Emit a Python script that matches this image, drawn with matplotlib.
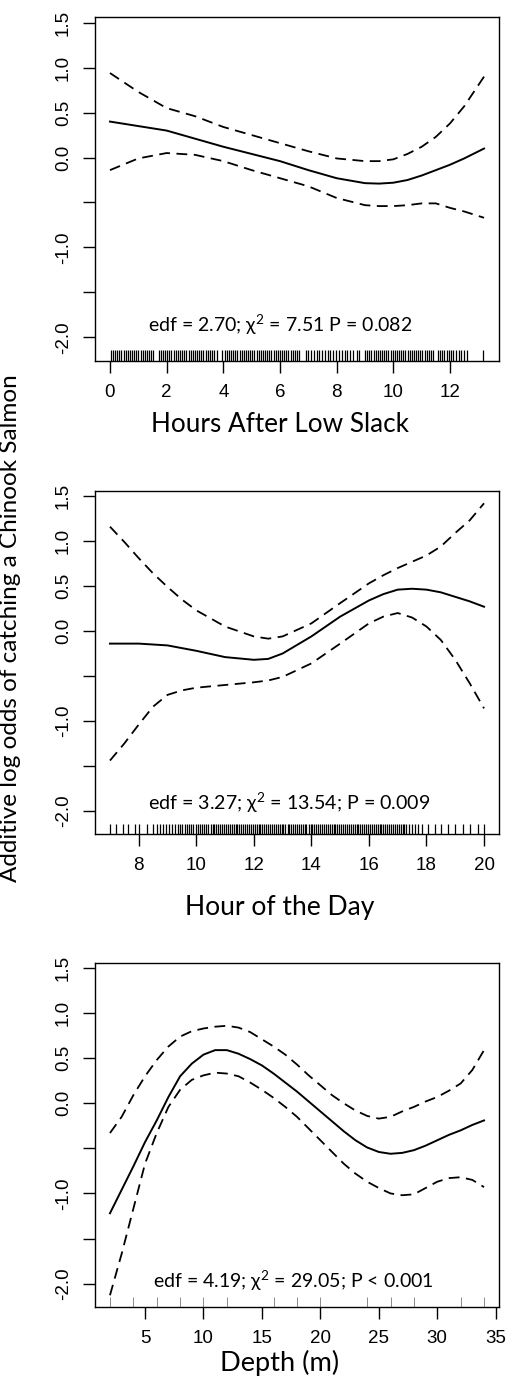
import matplotlib
matplotlib.use("Agg")
import matplotlib.pyplot as plt

plt.rcParams["mathtext.fontset"] = "custom"
plt.rcParams["mathtext.rm"] = "Lato"
plt.rcParams["mathtext.it"] = "Lato:italic"

# ---------------- data ----------------
# Panel 1: Hours After Low Slack
hals_x = [0, 1, 2, 3, 4, 5, 6, 7, 8, 9, 9.5, 10, 10.5, 11, 11.5, 12, 12.5, 13.2]
hals_fit = [0.40, 0.35, 0.30, 0.21, 0.12, 0.04, -0.04, -0.14, -0.23, -0.285, -0.29, -0.28, -0.25, -0.20, -0.14, -0.08, -0.01, 0.10]
hals_up = [0.94, 0.73, 0.55, 0.46, 0.34, 0.25, 0.16, 0.07, -0.01, -0.04, -0.04, -0.02, 0.04, 0.12, 0.23, 0.38, 0.57, 0.90]
hals_lo = [-0.14, -0.01, 0.05, 0.03, -0.04, -0.14, -0.23, -0.32, -0.45, -0.53, -0.54, -0.54, -0.53, -0.51, -0.51, -0.56, -0.60, -0.67]
hals_rug = [0.02, 0.1, 0.18, 0.25, 0.33, 0.4, 0.48, 0.55, 0.62, 0.7, 0.78, 0.85, 0.93, 1.0, 1.08, 1.15,
            1.23, 1.3, 1.38, 1.45, 1.52,
            1.72, 1.8, 1.87, 1.95, 2.02, 2.1, 2.17, 2.25, 2.33, 2.4, 2.48, 2.55, 2.62, 2.7, 2.78, 2.85,
            2.93, 3.0, 3.08, 3.15, 3.22, 3.3, 3.38, 3.45, 3.52, 3.6, 3.68, 3.78,
            3.97, 4.05, 4.12, 4.2, 4.28, 4.35, 4.42, 4.5, 4.58, 4.65, 4.72, 4.8, 4.88, 4.95, 5.02, 5.1,
            5.18, 5.25, 5.32, 5.4, 5.48, 5.55, 5.62, 5.7, 5.78, 5.85, 5.92, 6.0, 6.08, 6.15, 6.22, 6.3,
            6.38, 6.45, 6.52, 6.6, 6.68,
            6.92, 7.0, 7.1, 7.2, 7.3, 7.38, 7.48, 7.58, 7.68, 7.78, 7.88, 7.98, 8.08, 8.18, 8.28, 8.38,
            8.48, 8.58, 8.7, 8.8,
            9.0, 9.08, 9.15, 9.22, 9.3, 9.38, 9.45, 9.52, 9.6, 9.68, 9.75, 9.82, 9.9, 9.98, 10.05, 10.12,
            10.2, 10.28, 10.35, 10.42, 10.5, 10.58, 10.65, 10.72, 10.8, 10.88, 10.95, 11.02, 11.1, 11.18,
            11.25, 11.32, 11.4,
            11.58, 11.65, 11.72, 11.8, 11.88, 11.95, 12.02, 12.1, 12.2, 12.3, 12.4, 12.5, 12.6,
            13.17]

# Panel 2: Hour of the Day
hod_x = [7, 7.5, 8, 8.5, 9, 9.5, 10, 11, 12, 12.5, 13, 14, 15, 16, 16.5, 17, 17.5, 18, 18.5, 19, 19.5, 20]
hod_fit = [-0.14, -0.14, -0.14, -0.15, -0.16, -0.19, -0.22, -0.29, -0.32, -0.31, -0.25, -0.06, 0.16, 0.34, 0.41, 0.46, 0.47, 0.46, 0.43, 0.38, 0.33, 0.27]
hod_up = [1.16, 0.99, 0.81, 0.64, 0.49, 0.35, 0.23, 0.05, -0.06, -0.085, -0.06, 0.085, 0.31, 0.53, 0.62, 0.70, 0.77, 0.84, 0.94, 1.09, 1.23, 1.42]
hod_lo = [-1.44, -1.25, -1.04, -0.84, -0.71, -0.66, -0.63, -0.60, -0.57, -0.55, -0.51, -0.36, -0.14, 0.085, 0.16, 0.20, 0.15, 0.05, -0.10, -0.32, -0.58, -0.86]
hod_rug = [7.0, 7.22, 7.45, 7.62, 7.88, 8.0, 8.28, 8.5, 8.62, 8.75, 8.85, 8.95, 9.05, 9.15, 9.25, 9.35,
           9.45, 9.52, 9.6, 9.68, 9.75, 9.82, 9.9, 9.98, 10.05, 10.12, 10.2, 10.28, 10.35, 10.42, 10.5,
           10.57, 10.63, 10.7, 10.77, 10.83, 10.9, 10.97, 11.03, 11.1, 11.17, 11.23, 11.3, 11.37, 11.43,
           11.5, 11.57, 11.63, 11.7, 11.77, 11.83, 11.9, 11.97, 12.03, 12.1, 12.17, 12.23, 12.3, 12.37,
           12.43, 12.5, 12.57, 12.63, 12.7, 12.77, 12.83, 12.9, 12.97, 13.03, 13.1, 13.17, 13.23, 13.3,
           13.37, 13.43, 13.5, 13.57, 13.63, 13.7, 13.77, 13.83, 13.9, 13.97, 14.03, 14.1, 14.17, 14.23,
           14.3, 14.37, 14.43, 14.5, 14.57, 14.63, 14.7, 14.77, 14.83, 14.9, 14.97, 15.03, 15.1, 15.17,
           15.23, 15.3, 15.37, 15.43, 15.5, 15.57, 15.63, 15.7, 15.77, 15.83, 15.9, 15.97, 16.03, 16.1,
           16.17, 16.23, 16.3, 16.37, 16.43, 16.5, 16.57, 16.63, 16.7, 16.77, 16.83, 16.9, 16.97, 17.03,
           17.1, 17.17, 17.23, 17.3, 17.4, 17.5, 17.6, 17.72, 17.85,
           18.05, 18.3, 18.52, 18.75, 18.98, 19.27, 19.5, 19.78, 20.0]

# Panel 3: Depth (m)
dep_x = list(range(2, 35))
dep_fit = [-1.22, -0.96, -0.70, -0.43, -0.19, 0.07, 0.30, 0.44, 0.54, 0.59, 0.59, 0.55, 0.49, 0.42, 0.33, 0.23,
           0.13, 0.02, -0.09, -0.20, -0.31, -0.41, -0.49, -0.54, -0.56, -0.55, -0.52, -0.47, -0.41, -0.35,
           -0.30, -0.24, -0.19]
dep_up = [-0.33, -0.15, 0.09, 0.30, 0.48, 0.63, 0.74, 0.80, 0.83, 0.85, 0.86, 0.84, 0.79, 0.71, 0.63, 0.54,
          0.43, 0.31, 0.20, 0.09, 0.00, -0.08, -0.14, -0.17, -0.15, -0.09, -0.04, 0.02, 0.07, 0.14, 0.22,
          0.37, 0.59]
dep_lo = [-2.13, -1.67, -1.17, -0.67, -0.33, -0.04, 0.15, 0.26, 0.31, 0.34, 0.33, 0.30, 0.23, 0.15, 0.06, -0.04,
          -0.15, -0.28, -0.41, -0.54, -0.67, -0.78, -0.87, -0.94, -1.00, -1.02, -1.01, -0.94, -0.87, -0.83,
          -0.82, -0.85, -0.93]
dep_rug = [2, 4, 6, 8, 10, 12, 16, 18, 20, 24, 26, 28, 32, 34]

y_ticks = [-2.0, -1.5, -1.0, -0.5, 0.0, 0.5, 1.0, 1.5]
y_ticklabels = ["-2.0", "", "-1.0", "", "0.0", "0.5", "1.0", "1.5"]

x_ticks = [[0, 2, 4, 6, 8, 10, 12], [8, 10, 12, 14, 16, 18, 20], [5, 10, 15, 20, 25, 30, 35]]
x_titles = ["Hours After Low Slack", "Hour of the Day", "Depth (m)"]
annotations = ["edf = 2.70; \u03c7$^{2}$ = 7.51 P = 0.082",
               "edf = 3.27; \u03c7$^{2}$ = 13.54; P = 0.009",
               "edf = 4.19; \u03c7$^{2}$ = 29.05; P < 0.001"]
y_title = "Additive log odds of catching a Chinook Salmon"

# ---------------- layout ----------------
W, H = 508, 1390
fig = plt.figure(figsize=(W / 100, H / 100), dpi=100)
fig.patch.set_facecolor("white")

title_font = ["Lato", "Noto Sans", "DejaVu Sans"]
tick_font = ["Liberation Sans", "DejaVu Sans"]

boxes = [(17.3, 360.7), (490.7, 834.3), (962.7, 1307.0)]
xlims = [(-0.528, 13.728), (6.48, 20.52), (0.72, 35.28)]
ylim = (-2.26, 1.56)
title_base = [432, 915, 1371]
title_target_w = [258, 189, 119]
ann_left = [148.3, 148.3, 152.7]
ann_base = [332, 810, 1288]
ann_target_w = [264, 282, 281]

series = [(hals_x, hals_fit, hals_up, hals_lo, hals_rug),
          (hod_x, hod_fit, hod_up, hod_lo, hod_rug),
          (dep_x, dep_fit, dep_up, dep_lo, dep_rug)]
rug_lw = [0.9, 0.9, 0.6]
rug_col = ["black", "black", "#777777"]

renderer = fig.canvas.get_renderer()


def fit_width(t, target):
    w = t.get_window_extent(renderer).width
    t.set_fontsize(t.get_fontsize() * target / w)


for i, (top, bot) in enumerate(boxes):
    ax = fig.add_axes([95 / W, 1 - bot / H, (499 - 95) / W, (bot - top) / H])
    xs, fit, up, lo, rug = series[i]
    ax.plot(xs, fit, color="black", lw=1.4, solid_joinstyle="round")
    ax.plot(xs, up, color="black", lw=1.3, dashes=(6, 3.6))
    ax.plot(xs, lo, color="black", lw=1.3, dashes=(6, 3.6))
    ax.vlines(rug, 0, 0.03, transform=ax.get_xaxis_transform(), color=rug_col[i], lw=rug_lw[i])
    ax.set_xlim(*xlims[i])
    ax.set_ylim(*ylim)
    ax.set_xticks(x_ticks[i])
    ax.set_xticklabels([str(v) for v in x_ticks[i]], family=tick_font, fontsize=13.5)
    ax.set_yticks(y_ticks)
    ax.set_yticklabels(y_ticklabels, family=tick_font, fontsize=13.5, rotation=90, va="center")
    ax.tick_params(direction="out", length=8.5, width=1.0, color="black")
    ax.tick_params(axis="x", pad=8)
    ax.tick_params(axis="y", pad=8)
    for s in ax.spines.values():
        s.set_linewidth(1.0)
        s.set_color("black")

    t = fig.text(280 / W, 1 - title_base[i] / H, x_titles[i], family=title_font,
                 fontsize=17, ha="center", va="baseline")
    fit_width(t, title_target_w[i])
    a = fig.text(ann_left[i] / W, 1 - ann_base[i] / H, annotations[i], family=title_font,
                 fontsize=12, ha="left", va="baseline")
    fit_width(a, ann_target_w[i])

yl = fig.text(11 / W, 1 - 628 / H, y_title, family=title_font, fontsize=16,
              rotation=90, ha="center", va="center")
h = yl.get_window_extent(renderer).height
yl.set_fontsize(yl.get_fontsize() * 510 / h)

fig.savefig("out.png", dpi=100, facecolor="white")
